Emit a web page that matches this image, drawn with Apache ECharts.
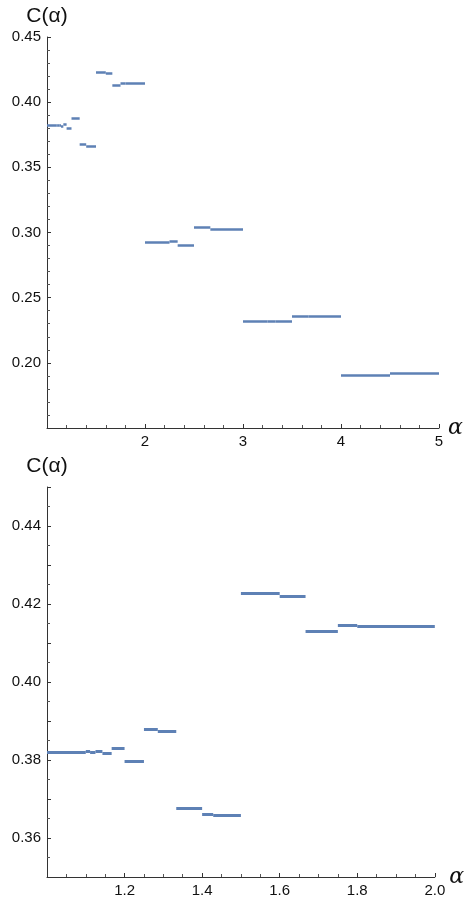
<!DOCTYPE html>
<html>
<head>
<meta charset="utf-8">
<script src="https://cdn.jsdelivr.net/npm/echarts@6/dist/echarts.min.js"></script>
<style>
html,body{margin:0;padding:0;background:#fff;}
#chart{width:465px;height:900px;}
</style>
</head>
<body>
<div id="chart"></div>
<script>
// Piecewise-constant C(alpha): segment starts, ends, values
const segStart = [1.0, 1.1, 1.1111, 1.125, 1.1429, 1.1667, 1.2, 1.25, 1.2857, 1.3333, 1.4, 1.4286, 1.5, 1.6, 1.6667, 1.75, 1.8, 2.0, 2.25, 2.3333, 2.5, 2.6667, 3.0, 3.25, 3.3333, 3.5, 3.6667, 4.0, 4.5];
const segEnd   = [1.1, 1.1111, 1.125, 1.1429, 1.1667, 1.2, 1.25, 1.2857, 1.3333, 1.4, 1.4286, 1.5, 1.6, 1.6667, 1.75, 1.8, 2.0, 2.25, 2.3333, 2.5, 2.6667, 3.0, 3.25, 3.3333, 3.5, 3.6667, 4.0, 4.5, 5.0];
const segValue = [0.3820, 0.3822, 0.3820, 0.3822, 0.3817, 0.3829, 0.3798, 0.3878, 0.3874, 0.3676, 0.3662, 0.3659, 0.4228, 0.4221, 0.4130, 0.4146, 0.4143, 0.2928, 0.2935, 0.2905, 0.3038, 0.3025, 0.2318, 0.2322, 0.2318, 0.2361, 0.2355, 0.1905, 0.1920];

const yName = 'C(α)';
const xName = 'α';

const segs = segStart.map((s, i) => ({coords: [[s, segValue[i]], [segEnd[i], segValue[i]]]}));

const FONT = 'Liberation Sans, Arial, sans-serif';
const axisCol = '#333';

function xAxisCfg(gridIndex, min, max, interval, split, fmt) {
  return {
    type: 'value', gridIndex, min, max, interval,
    name: xName, nameLocation: 'end', nameGap: 9,
    nameTextStyle: {fontFamily: 'DejaVu Serif, serif', fontStyle: 'italic', fontSize: 22, color: '#111', verticalAlign: 'middle', padding: [4,0,0,0]},
    axisLine: {show: true, onZero: false, lineStyle: {color: axisCol, width: 1}},
    axisTick: {show: true, inside: true, length: 4, lineStyle: {color: axisCol}},
    minorTick: {show: true, splitNumber: split, length: 3, lineStyle: {color: '#555'}},
    splitLine: {show: false},
    axisLabel: {showMinLabel: false, margin: 6, fontSize: 15, fontFamily: FONT, color: '#111', formatter: fmt}
  };
}
function yAxisCfg(gridIndex, min, max, interval, split, fmt) {
  return {
    type: 'value', gridIndex, min, max, interval,
    name: yName, nameLocation: 'end', nameGap: 10,
    nameTextStyle: {fontFamily: FONT, fontSize: 21, color: '#111', align: 'center'},
    axisLine: {show: true, onZero: false, lineStyle: {color: axisCol, width: 1}},
    axisTick: {show: true, inside: true, length: 4, lineStyle: {color: axisCol}},
    minorTick: {show: true, splitNumber: split, length: 3, lineStyle: {color: '#555'}},
    splitLine: {show: false},
    axisLabel: {showMinLabel: false, margin: 6, fontSize: 15, fontFamily: FONT, color: '#111', formatter: fmt}
  };
}

const chart = echarts.init(document.getElementById('chart'), null, {renderer: 'canvas'});
chart.setOption({
  animation: false,
  backgroundColor: '#fff',
  grid: [
    {left: 47, top: 37, width: 392, height: 391},
    {left: 47, top: 487, width: 392, height: 390}
  ],
  xAxis: [
    xAxisCfg(0, 1, 5, 1, 5, v => String(Math.round(v))),
    xAxisCfg(1, 1, 2, 0.2, 4, v => v.toFixed(1))
  ],
  yAxis: [
    yAxisCfg(0, 0.15, 0.45, 0.05, 5, v => v.toFixed(2)),
    yAxisCfg(1, 0.35, 0.45, 0.01, 2, v => (Math.round(v * 100) % 2 === 0 ? v.toFixed(2) : ''))
  ],
  series: [
    {type: 'lines', coordinateSystem: 'cartesian2d', xAxisIndex: 0, yAxisIndex: 0, data: segs,
     lineStyle: {color: '#5E81B5', width: 2.5, opacity: 1}, clip: true},
    {type: 'lines', coordinateSystem: 'cartesian2d', xAxisIndex: 1, yAxisIndex: 1, data: segs,
     lineStyle: {color: '#5E81B5', width: 3, opacity: 1}, clip: true}
  ]
});
</script>
</body>
</html>
